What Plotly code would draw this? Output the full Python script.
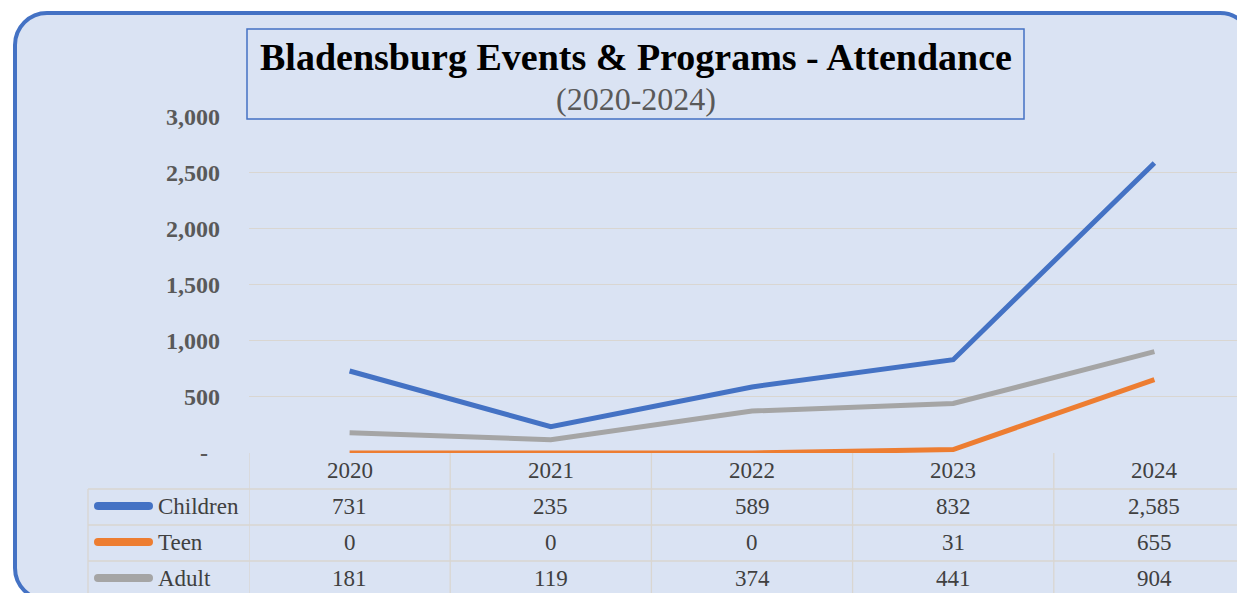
import plotly.graph_objects as go

# ---------------- data ----------------
years = ["2020", "2021", "2022", "2023", "2024"]
children = [731, 235, 589, 832, 2585]
teen = [0, 0, 0, 31, 655]
adult = [181, 119, 374, 441, 904]
series_names = ["Children", "Teen", "Adult"]
y_ticks = [0, 500, 1000, 1500, 2000, 2500, 3000]
y_ticktext = ["-\u00a0\u00a0", "500", "1,000", "1,500", "2,000", "2,500", "3,000"]

# ---------------- styling ----------------
W, H = 1245, 593
OFF = 8  # page body margin
BG = "#DAE3F3"
BLUE = "#4472C4"
COLORS = ["#4472C4", "#ED7D31", "#A5A5A5"]
GRID = "#D9D6D1"
SERIF = "Times New Roman, Liberation Serif, serif"
K = 0.5523


def fx(x):
    return (x - OFF) / W


def fy(y):
    return 1 - (y - OFF) / H


def P(x, y):
    return f"{fx(x)},{fy(y)}"


def rounded_path(l, t, r_, b, rad):
    c = rad * (1 - K)
    return " ".join([
        f"M {P(l+rad, t)}",
        f"L {P(r_-rad, t)}",
        f"C {P(r_-c, t)} {P(r_, t+c)} {P(r_, t+rad)}",
        f"L {P(r_, b-rad)}",
        f"C {P(r_, b-c)} {P(r_-c, b)} {P(r_-rad, b)}",
        f"L {P(l+rad, b)}",
        f"C {P(l+c, b)} {P(l, b-c)} {P(l, b-rad)}",
        f"L {P(l, t+rad)}",
        f"C {P(l, t+c)} {P(l+c, t)} {P(l+rad, t)}",
        "Z",
    ])


fig = go.Figure()

all_series = [children, teen, adult]
for name, vals, col in zip(series_names, all_series, COLORS):
    fig.add_trace(go.Scatter(
        x=list(range(len(years))), y=vals, mode="lines", name=name,
        line=dict(color=col, width=5), cliponaxis=False, showlegend=False,
    ))

shapes = []
shapes.append(dict(type="path", xref="paper", yref="paper",
                   path=rounded_path(15, 13, 1252, 600, 32),
                   fillcolor=BG, line=dict(color=BLUE, width=4), layer="below"))

row_lines = [489, 525, 561]
for yy in row_lines:
    shapes.append(dict(type="line", xref="paper", yref="paper",
                       x0=fx(88), x1=1, y0=fy(yy), y1=fy(yy),
                       line=dict(color=GRID, width=1.3), layer="above"))
shapes.append(dict(type="line", xref="paper", yref="paper",
                   x0=fx(88), x1=fx(88), y0=fy(489), y1=0,
                   line=dict(color=GRID, width=1.3)))
for i in range(len(years)):
    shapes.append(dict(type="line", xref="x", yref="paper",
                       x0=i - 0.5, x1=i - 0.5, y0=fy(453), y1=0,
                       line=dict(color=GRID, width=1.3)))

row_centers = [506, 542, 578]
for yc, col in zip(row_centers, COLORS):
    hh = 4.0
    x1, x2 = 94, 153
    p = (f"M {P(x1+hh, yc-hh)} L {P(x2-hh, yc-hh)} "
         f"Q {P(x2, yc-hh)} {P(x2, yc)} Q {P(x2, yc+hh)} {P(x2-hh, yc+hh)} "
         f"L {P(x1+hh, yc+hh)} Q {P(x1, yc+hh)} {P(x1, yc)} "
         f"Q {P(x1, yc-hh)} {P(x1+hh, yc-hh)} Z")
    shapes.append(dict(type="path", xref="paper", yref="paper", path=p,
                       fillcolor=col, line=dict(width=0)))

shapes.append(dict(type="rect", xref="paper", yref="paper",
                   x0=fx(247), x1=fx(1024), y0=fy(119), y1=fy(29),
                   fillcolor=BG, line=dict(color=BLUE, width=1.5), layer="above"))

annotations = []
annotations.append(dict(xref="paper", yref="paper", x=fx(636), y=fy(57),
                        text="<b>Bladensburg Events &amp; Programs - Attendance</b>",
                        showarrow=False, xanchor="center", yanchor="middle",
                        font=dict(family=SERIF, size=38, color="#000000")))
annotations.append(dict(xref="paper", yref="paper", x=fx(636), y=fy(99),
                        text="(2020-2024)", showarrow=False,
                        xanchor="center", yanchor="middle",
                        font=dict(family=SERIF, size=32, color="#595959")))

for i, yr in enumerate(years):
    annotations.append(dict(xref="x", yref="paper", x=i, y=fy(470), text=yr,
                            showarrow=False, xanchor="center", yanchor="middle",
                            font=dict(family=SERIF, size=23, color="#404040")))
for name, vals, yc in zip(series_names, all_series, row_centers):
    annotations.append(dict(xref="paper", yref="paper", x=fx(156), y=fy(yc),
                            text=name, showarrow=False, xanchor="left",
                            yanchor="middle",
                            font=dict(family=SERIF, size=23, color="#404040")))
    for i, v in enumerate(vals):
        annotations.append(dict(xref="x", yref="paper", x=i, y=fy(yc),
                                text=f"{v:,}", showarrow=False,
                                xanchor="center", yanchor="middle",
                                font=dict(family=SERIF, size=23, color="#404040")))

plot_left = 249
cat_w = 201.2
x_right = -0.5 + (W + OFF - plot_left) / cat_w

fig.update_layout(
    template="none",
    width=W, height=H,
    autosize=False,
    margin=dict(l=0, r=0, t=0, b=0, pad=0),
    paper_bgcolor="#FFFFFF",
    plot_bgcolor="rgba(0,0,0,0)",
    shapes=shapes,
    annotations=annotations,
    xaxis=dict(domain=[fx(plot_left), 1], range=[-0.5, x_right], automargin=False,
               showgrid=False, zeroline=False, showticklabels=False,
               showline=False, ticks=""),
    yaxis=dict(domain=[fy(453), fy(116.5)], range=[0, 3000], automargin=False,
               tickvals=y_ticks, ticktext=y_ticktext,
               showgrid=True, gridcolor=GRID, gridwidth=1.3,
               zeroline=False, showline=False, ticks="",
               ticklabelstandoff=28,
               tickfont=dict(family=SERIF, size=24, color="#595959", weight="bold")),
)

fig.write_html("out.html")
